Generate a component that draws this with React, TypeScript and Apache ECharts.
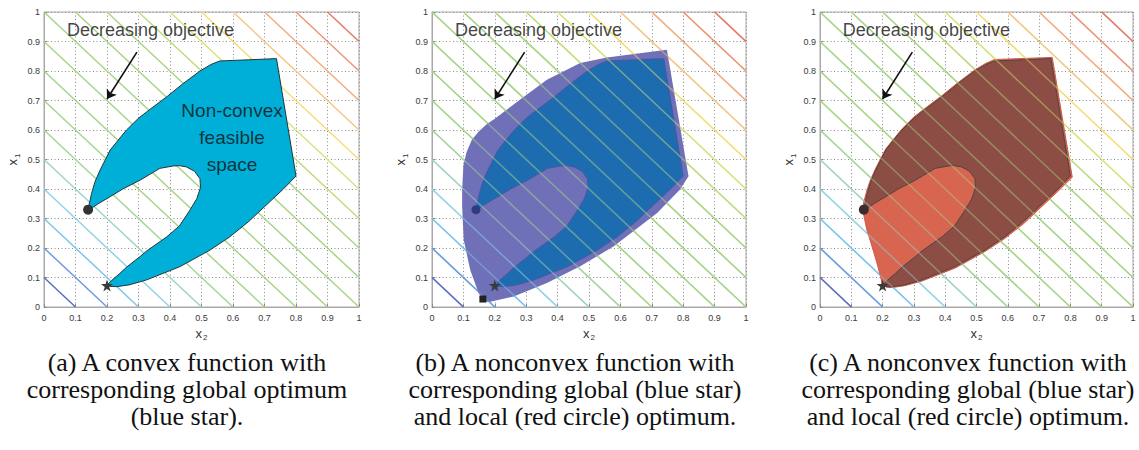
import React, { useEffect, useRef } from "react";
import * as echarts from "echarts";

// Objective contour levels: x1 + x2 = c
const contourLevels = [0.1, 0.2, 0.3, 0.4, 0.5, 0.6, 0.7, 0.8, 0.9, 1.0, 1.1, 1.2, 1.3, 1.4, 1.5, 1.6, 1.7, 1.8, 1.9];

// Non-convex feasible region, points as [x2, x1]
const feasibleRegion: [number, number][] = [
  [0.141, 0.338], [0.146, 0.36], [0.151, 0.385], [0.162, 0.425], [0.178, 0.464], [0.195, 0.5],
  [0.21, 0.532], [0.235, 0.565], [0.262, 0.6], [0.3, 0.64], [0.34, 0.673], [0.389, 0.712],
  [0.44, 0.756], [0.495, 0.8], [0.53, 0.822], [0.558, 0.834], [0.65, 0.838], [0.738, 0.842],
  [0.8, 0.444], [0.76, 0.4], [0.72, 0.36], [0.65, 0.29], [0.59, 0.238], [0.527, 0.193],
  [0.432, 0.137], [0.326, 0.092], [0.27, 0.075], [0.231, 0.069], [0.21, 0.07], [0.2, 0.074],
  [0.215, 0.09], [0.241, 0.114], [0.262, 0.135], [0.305, 0.171], [0.326, 0.19], [0.39, 0.238],
  [0.43, 0.275], [0.463, 0.328], [0.485, 0.367], [0.497, 0.405], [0.495, 0.435], [0.478, 0.46],
  [0.452, 0.475], [0.43, 0.479], [0.41, 0.478], [0.368, 0.47], [0.305, 0.43], [0.25, 0.4],
  [0.21, 0.374], [0.175, 0.352], [0.155, 0.338],
];

// Convex relaxation of the feasible region (panel b)
const relaxedRegion: [number, number][] = [
  [0.17, 0.018], [0.149, 0.046], [0.122, 0.125], [0.101, 0.227], [0.096, 0.341], [0.096, 0.397],
  [0.1, 0.48], [0.11, 0.525], [0.127, 0.567], [0.149, 0.595], [0.175, 0.62], [0.2, 0.638],
  [0.281, 0.703], [0.366, 0.77], [0.472, 0.827], [0.557, 0.846], [0.748, 0.872], [0.817, 0.443],
  [0.79, 0.398], [0.717, 0.319], [0.579, 0.206], [0.472, 0.138], [0.366, 0.081], [0.26, 0.036],
  [0.186, 0.018],
];

// Convex hull of the feasible region (panel c)
const hullRegion: [number, number][] = [
  [0.137, 0.331], [0.142, 0.3], [0.15, 0.26], [0.16, 0.227], [0.172, 0.185], [0.183, 0.145],
  [0.193, 0.105], [0.2, 0.074], [0.215, 0.066], [0.231, 0.066], [0.27, 0.072], [0.326, 0.088],
  [0.432, 0.132], [0.527, 0.188], [0.59, 0.232], [0.65, 0.282], [0.72, 0.352], [0.76, 0.392],
  [0.806, 0.44], [0.742, 0.846], [0.558, 0.839], [0.53, 0.826], [0.495, 0.804], [0.44, 0.76],
  [0.389, 0.716], [0.34, 0.677], [0.3, 0.644], [0.262, 0.604], [0.235, 0.569], [0.21, 0.536],
  [0.195, 0.505], [0.176, 0.466], [0.159, 0.425], [0.147, 0.385], [0.141, 0.36], [0.137, 0.34],
];

const localOptimum: [number, number] = [0.14, 0.33];
const globalOptimum: [number, number] = [0.2, 0.073];
const relaxedOptimum: [number, number] = [0.162, 0.027];

const arrowFrom: [number, number] = [0.295, 0.864];
const arrowTo: [number, number] = [0.2, 0.705];
const objectiveLabelAt: [number, number] = [0.073, 0.94];
const regionLabelAt: [number, number] = [0.597, 0.575];

const axisTicks = [0, 0.1, 0.2, 0.3, 0.4, 0.5, 0.6, 0.7, 0.8, 0.9, 1];

const captions = [
  ["(a) A convex function with", "corresponding global optimum", "(blue star)."],
  ["(b) A nonconvex function with", "corresponding global (blue star)", "and local (red circle) optimum."],
  ["(c) A nonconvex function with", "corresponding global (blue star)", "and local (red circle) optimum."],
];

// Colormap for the contour lines, low to high
const contourPalette = [
  "#5d6cc0", "#6b9ddf", "#7ec4ec", "#93d3e6", "#9fd5c2", "#a5d59c", "#a8d58c", "#a8d487",
  "#a8d487", "#a8d487", "#a9d486", "#acd585", "#bfdb80", "#d7e37c", "#f2df78", "#f5c685",
  "#f1ac80", "#ec9677", "#e37a66",
];

const panels = [
  { left: 44, width: 315, caption: 187 },
  { left: 432, width: 314, caption: 575 },
  { left: 820, width: 313, caption: 968 },
];
const PLOT_TOP = 12;
const PLOT_H = 295;
const CAPTION_Y = 362;
const CAPTION_STEP = 27;

const STAR =
  "path://M50,0 L61,35 L98,35 L68,57 L79,91 L50,70 L21,91 L32,57 L2,35 L39,35 Z";

const fmtTick = (v: number) => String(Math.round(v * 10) / 10);

function axisBase(i: number) {
  return {
    gridIndex: i,
    type: "value",
    min: 0,
    max: 1,
    interval: 0.1,
    axisLine: { show: true, onZero: false, lineStyle: { color: "#a9a9a9", width: 1 } },
    axisTick: { show: true, inside: true, length: 3, lineStyle: { color: "#888" } },
    axisLabel: {
      fontSize: 9,
      color: "#3a3a3a",
      fontFamily: "Liberation Sans",
      formatter: (v: number) => (axisTicks.some((t) => Math.abs(t - v) < 1e-6) ? fmtTick(v) : ""),
    },
    splitLine: { show: true, lineStyle: { color: "#8a8a8a", width: 1, type: [1, 2.5] } },
    nameLocation: "middle",
    nameTextStyle: {
      color: "#333",
      fontFamily: "Liberation Sans",
      rich: {
        v: { fontSize: 13, fontFamily: "Liberation Sans", color: "#333", verticalAlign: "top", lineHeight: 14 },
        s: { fontSize: 8, fontFamily: "Liberation Sans", color: "#333", verticalAlign: "top", lineHeight: 14, padding: [7, 0, 0, 1] },
      },
    },
  };
}

function polygon(i: number, pts: [number, number][], fill: string, stroke: string | null, z: number) {
  return {
    type: "custom",
    xAxisIndex: i,
    yAxisIndex: i,
    z,
    silent: true,
    data: [[0, 0]],
    renderItem: (_p: any, api: any) => ({
      type: "polygon",
      shape: { points: pts.map((p) => api.coord(p)) },
      style: { fill, stroke: stroke || "none", lineWidth: stroke ? 1 : 0 },
    }),
  };
}

function contours(i: number, opacity: number, z: number) {
  return {
    type: "lines",
    coordinateSystem: "cartesian2d",
    xAxisIndex: i,
    yAxisIndex: i,
    z,
    silent: true,
    lineStyle: { width: 1.5, opacity },
    data: contourLevels.map((c, k) => ({
      coords: c <= 1 ? [[0, c], [c, 0]] : [[c - 1, 1], [1, c - 1]],
      lineStyle: { color: contourPalette[k], width: 1.5, opacity },
    })),
  };
}

function marker(i: number, at: [number, number], symbol: string, size: number, color: string) {
  return {
    type: "scatter",
    xAxisIndex: i,
    yAxisIndex: i,
    z: 8,
    silent: true,
    symbol,
    symbolSize: size,
    itemStyle: { color, opacity: 1 },
    data: [at],
  };
}

function arrow(i: number) {
  return {
    type: "lines",
    coordinateSystem: "cartesian2d",
    xAxisIndex: i,
    yAxisIndex: i,
    z: 9,
    silent: true,
    symbol: ["none", "arrow"],
    symbolSize: 9,
    lineStyle: { color: "#111", width: 1.6, opacity: 1 },
    data: [{ coords: [arrowFrom, arrowTo] }],
  };
}

function textAt(i: number, at: [number, number], text: string, position: string, extra: any = {}) {
  return {
    type: "scatter",
    xAxisIndex: i,
    yAxisIndex: i,
    z: 10,
    silent: true,
    symbolSize: 0,
    data: [at],
    label: {
      show: true,
      position,
      distance: 0,
      formatter: text,
      color: "#111",
      fontSize: 18,
      fontFamily: "Liberation Sans",
      ...extra,
    },
  };
}

export default function App() {
  const ref = useRef<HTMLDivElement>(null);

  useEffect(() => {
    if (!ref.current) return;
    const chart = echarts.init(ref.current, null, { renderer: "svg" });

    const series: any[] = [];
    // (a) convex objective over a non-convex feasible set
    series.push(contours(0, 1, 2));
    series.push(polygon(0, feasibleRegion, "#00afd7", "#26343a", 3));
    series.push(marker(0, localOptimum, "circle", 10, "#333"));
    series.push(marker(0, globalOptimum, STAR, 12, "#3a3a3a"));
    series.push(arrow(0));
    series.push(textAt(0, objectiveLabelAt, "Decreasing objective", "right"));
    series.push(
      textAt(0, regionLabelAt, "Non-convex\nfeasible\nspace", "inside", {
        fontSize: 19,
        lineHeight: 27,
        align: "center",
        verticalAlign: "middle",
      })
    );

    // (b) relaxed region under the feasible set
    series.push(contours(1, 1, 2));
    series.push(polygon(1, relaxedRegion, "#6f70b7", null, 3));
    series.push(polygon(1, feasibleRegion, "#1d6cb0", "#4b56a3", 4));
    series.push(contours(1, 0.5, 5));
    series.push(marker(1, relaxedOptimum, "rect", 7, "#222"));
    series.push(marker(1, localOptimum, "circle", 9, "#2f3b80"));
    series.push(marker(1, globalOptimum, STAR, 12, "#3a3a3a"));
    series.push(arrow(1));
    series.push(textAt(1, objectiveLabelAt, "Decreasing objective", "right"));

    // (c) convex hull under the feasible set
    series.push(contours(2, 1, 2));
    series.push(polygon(2, hullRegion, "#d8654f", "#cf5a45", 3));
    series.push(polygon(2, feasibleRegion, "#8b4d44", "#4d4545", 4));
    series.push(contours(2, 0.45, 5));
    series.push(marker(2, localOptimum, "circle", 10, "#3b2d2d"));
    series.push(marker(2, globalOptimum, STAR, 12, "#3a3a3a"));
    series.push(arrow(2));
    series.push(textAt(2, objectiveLabelAt, "Decreasing objective", "right"));

    const graphic: any[] = [];
    panels.forEach((p, i) => {
      captions[i].forEach((line, j) => {
        graphic.push({
          type: "text",
          x: p.caption,
          y: CAPTION_Y + j * CAPTION_STEP,
          silent: true,
          style: {
            text: line,
            fontSize: 26,
            fontFamily: "Liberation Serif",
            fill: "#111",
            textAlign: "center",
            textVerticalAlign: "middle",
          },
        });
      });
    });

    chart.setOption({
      animation: false,
      backgroundColor: "#ffffff",
      grid: panels.map((p) => ({
        left: p.left,
        top: PLOT_TOP,
        width: p.width,
        height: PLOT_H,
        show: true,
        borderColor: "#a9a9a9",
        borderWidth: 1,
        backgroundColor: "#ffffff",
        z: 0,
      })),
      xAxis: panels.map((_, i) => ({
        ...axisBase(i),
        name: "{v|x}{s|2}",
        nameGap: 18,
        axisLabel: { ...axisBase(i).axisLabel, margin: 6 },
      })),
      yAxis: panels.map((_, i) => ({
        ...axisBase(i),
        name: "{v|x}{s|1}",
        nameRotate: 90,
        nameGap: 24,
        axisLabel: { ...axisBase(i).axisLabel, margin: 4 },
      })),
      series,
      graphic,
    });

    return () => chart.dispose();
  }, []);

  return (
    <div
      ref={ref}
      style={{ position: "absolute", left: 0, top: 0, width: 1139, height: 450, background: "#fff" }}
    />
  );
}
